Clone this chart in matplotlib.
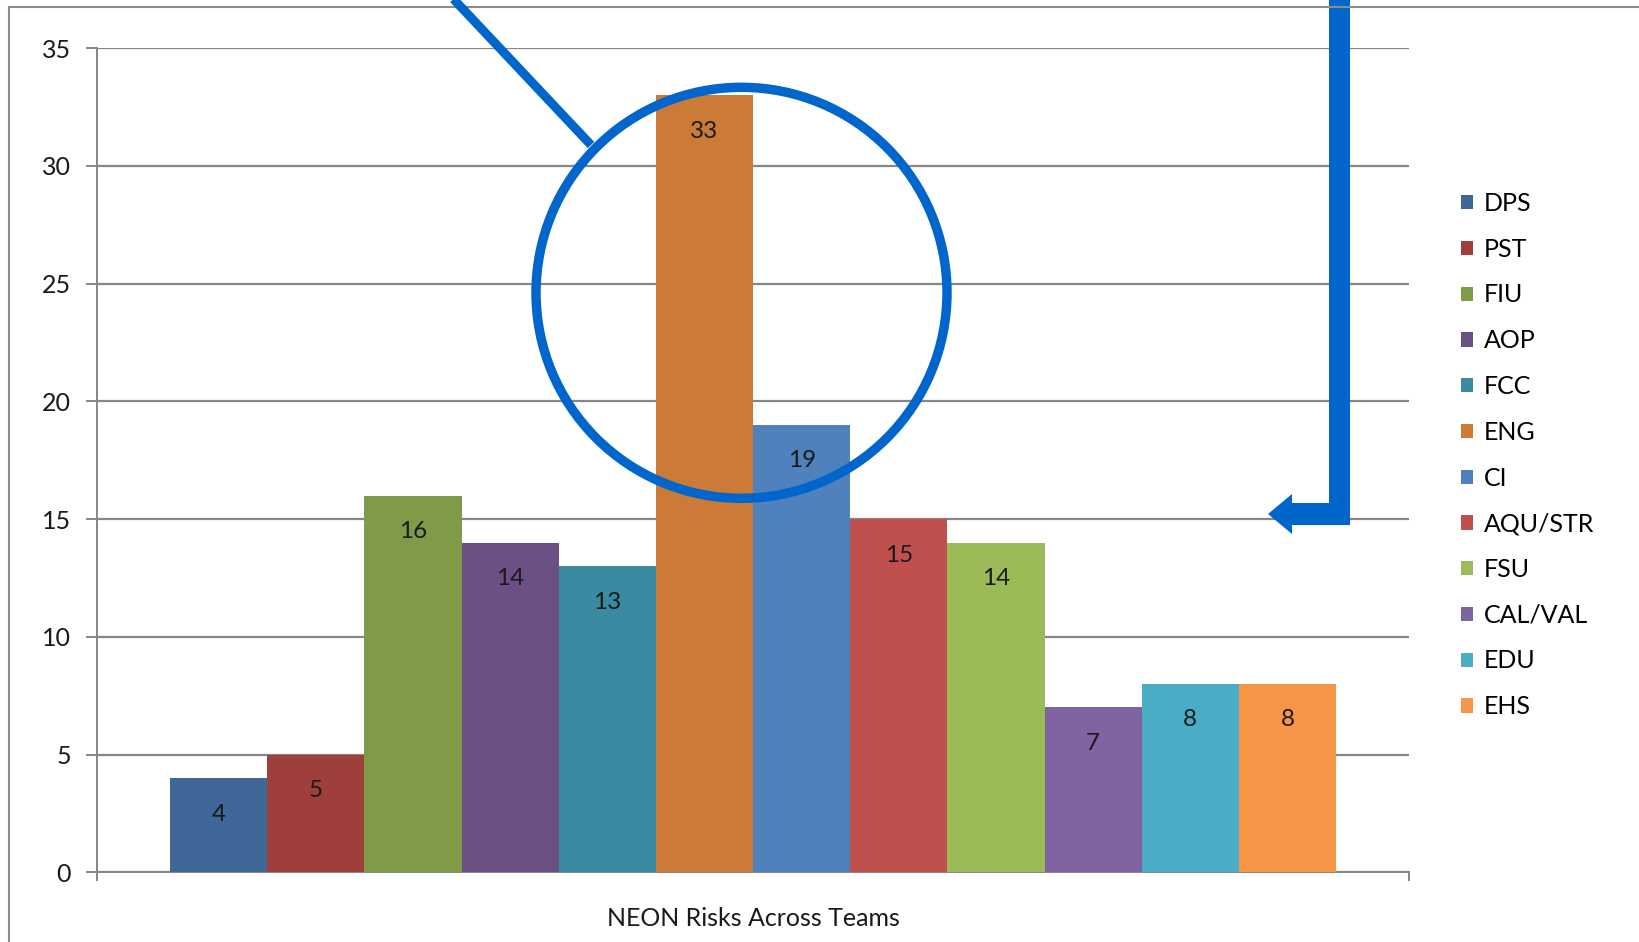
import matplotlib.pyplot as plt
from matplotlib.patches import Circle, Polygon
from matplotlib.lines import Line2D

plt.rcParams['font.family'] = ['Lato', 'DejaVu Sans']

# risk counts per team
teams = ['DPS', 'PST', 'FIU', 'AOP', 'FCC', 'ENG', 'CI', 'AQU/STR', 'FSU', 'CAL/VAL', 'EDU', 'EHS']
risks = [4, 5, 16, 14, 13, 33, 19, 15, 14, 7, 8, 8]
colors = ['#3F6899', '#9E3F3C', '#7F9B48', '#6A5084', '#3A8AA1', '#CC7A37',
          '#4F81BD', '#C0504D', '#9BBB59', '#8064A2', '#4BACC6', '#F79646']
category = 'NEON Risks Across Teams'
y_ticks = [0, 5, 10, 15, 20, 25, 30, 35]

W, H = 1640, 942
fig = plt.figure(figsize=(W / 100, H / 100), dpi=100)
ax = fig.add_axes([97.3 / W, 69.7 / H, 1311.5 / W, 824.2 / H])

grid_c = '#868686'
text_c = '#1a1a1a'
group = 0.889
bw = group / len(teams)
for i, (t, v, c) in enumerate(zip(teams, risks, colors)):
    x = -group / 2 + bw * (i + 0.5)
    ax.bar(x, v, width=bw, color=c, label=t, zorder=3)
    ax.annotate(str(v), (x, v), xytext=(0, -36), textcoords='offset pixels',
                ha='center', va='center', fontsize=17.5, color=text_c, zorder=4)

ax.set_xlim(-0.5, 0.5)
ax.set_ylim(0, 35)
ax.set_yticks(y_ticks)
ax.set_xticks([-0.5, 0.5])
ax.set_xticklabels(['', ''])
ax.yaxis.grid(True, color=grid_c, linewidth=1.6, zorder=0)
ax.tick_params(axis='y', length=7.6, width=1.4, color=grid_c, labelsize=18,
               labelcolor=text_c, pad=11.5)
ax.tick_params(axis='x', length=6.2, width=1.4, color=grid_c)
for s in ['top', 'right']:
    ax.spines[s].set_visible(False)
for s in ['left', 'bottom']:
    ax.spines[s].set_color(grid_c)
    ax.spines[s].set_linewidth(1.4)
ax.set_xlabel(category, fontsize=18, color=text_c, labelpad=15)

ax.legend(loc='upper left', bbox_to_anchor=(1461 / W, 1 - 192 / H),
          bbox_transform=fig.transFigure, frameon=False, fontsize=18,
          handlelength=0.5, handleheight=0.5, handletextpad=0.4,
          labelspacing=0.91, borderpad=0, borderaxespad=0)

# overlay in pixel coordinates for the frame and callouts
ov = fig.add_axes([0, 0, 1, 1], zorder=10)
ov.set_xlim(0, W)
ov.set_ylim(H, 0)
ov.axis('off')
ov.patch.set_alpha(0)

ov.add_line(Line2D([9.4, 9.4, W + 10], [H + 10, 7.3, 7.3], color='#8c8c8c', linewidth=1.5))

blue = '#0066CC'
ov.add_patch(Circle((741.5, 292.8), 205.5, fill=False, edgecolor=blue, linewidth=6.8))
ov.add_line(Line2D([449.7, 591], [-5, 145], color=blue, linewidth=6.5, solid_capstyle='butt'))
ov.add_patch(Polygon([(1329, -5), (1350, -5), (1350, 525), (1292, 525), (1292, 534),
                      (1268, 514), (1292, 494), (1292, 503), (1329, 503)],
                     closed=True, facecolor=blue, edgecolor='none'))

fig.savefig('out.png', dpi=100)
